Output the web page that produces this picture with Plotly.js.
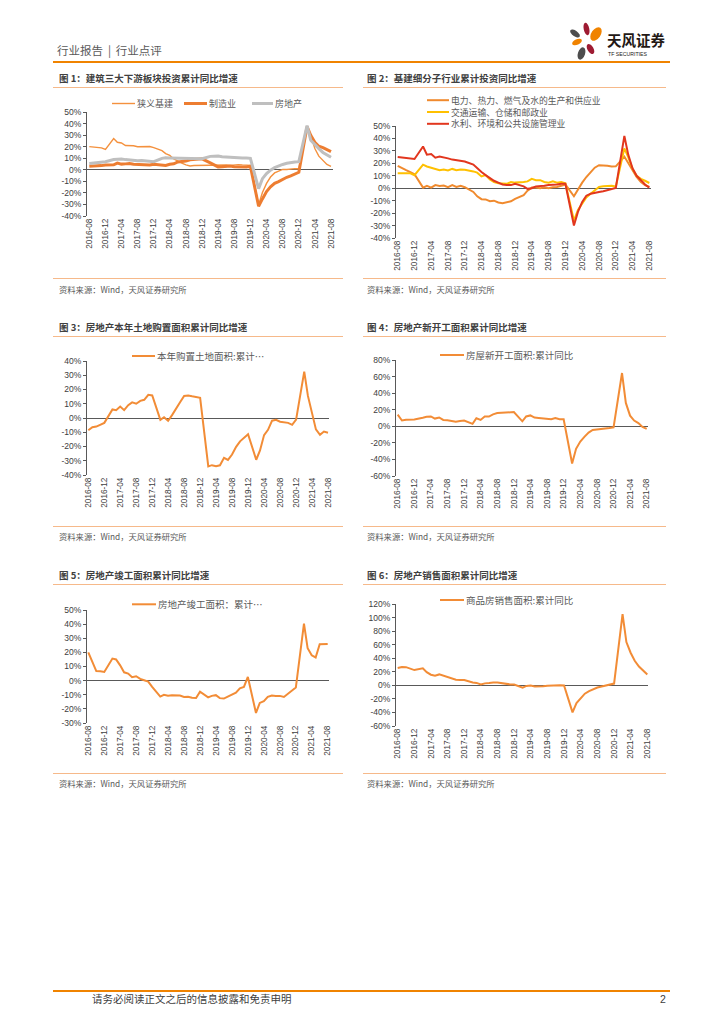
<!DOCTYPE html>
<html><head><meta charset="utf-8">
<script src="https://cdn.plot.ly/plotly-3.0.1.min.js"></script>
<style>
body{margin:0;width:724px;height:1024px;position:relative;background:#fff;overflow:hidden;font-family:"Liberation Sans","Noto Sans CJK SC",sans-serif}
.abs{position:absolute;white-space:nowrap}
.ttl{font-family:"Noto Sans CJK SC";font-weight:bold;font-size:9.5px;line-height:10px;color:#404040}
.src{font-family:"Noto Sans CJK SC";font-size:8.3px;line-height:9px;color:#595959}
.ln{position:absolute;height:1.5px;background:#F6B98A}
.chart{position:absolute}
</style></head><body>

<div class="abs" style="left:57px;top:44px;font-family:'Noto Sans CJK SC';font-size:11.5px;line-height:12px;color:#595959">行业报告 &#8201;|&#8201; 行业点评</div>
<div class="ln" style="left:53px;top:61px;width:617px;height:1.6px;background:#F08300"></div>
<svg class="abs" style="left:566px;top:18px" width="40" height="44" viewBox="0 0 40 44">
  <ellipse cx="20.5" cy="11" rx="2.8" ry="6.3" transform="rotate(-12 20.5 11)" fill="#9E1B32"/>
  <ellipse cx="30" cy="16" rx="4.6" ry="7.5" transform="rotate(35 30 16)" fill="#F08300"/>
  <ellipse cx="9" cy="15.5" rx="2.8" ry="5.6" transform="rotate(-55 9 15.5)" fill="#4D4D4D"/>
  <ellipse cx="11" cy="24" rx="2.8" ry="5.2" transform="rotate(65 11 24)" fill="#F08300"/>
  <ellipse cx="24.5" cy="31" rx="3" ry="5.6" transform="rotate(-30 24.5 31)" fill="#9E1B32"/>
  <ellipse cx="15.5" cy="35.5" rx="3.6" ry="6.4" transform="rotate(18 15.5 35.5)" fill="#4D4D4D"/>
</svg>
<div class="abs" style="left:607px;top:32px;font-family:'Noto Sans CJK SC';font-weight:bold;font-size:14.5px;line-height:16px;color:#231815">天风证券</div>
<div class="abs" style="left:608px;top:50.5px;font-family:'Liberation Sans';font-size:5.2px;line-height:6px;color:#231815">TF SECURITIES</div>

<div class="abs ttl" style="left:59px;top:73px">图 1：建筑三大下游板块投资累计同比增速</div>
<div class="abs ttl" style="left:367px;top:73px">图 2：基建细分子行业累计投资同比增速</div>
<div class="ln" style="left:53px;top:86.5px;width:290px"></div>
<div class="ln" style="left:363px;top:86.5px;width:303px"></div>
<div class="ln" style="left:53px;top:277.5px;width:290px"></div>
<div class="ln" style="left:363px;top:277.5px;width:303px"></div>
<div class="abs src" style="left:59px;top:284.5px">资料来源：Wind，天风证券研究所</div>
<div class="abs src" style="left:367px;top:284.5px">资料来源：Wind，天风证券研究所</div>

<div class="abs ttl" style="left:59px;top:321.5px">图 3：房地产本年土地购置面积累计同比增速</div>
<div class="abs ttl" style="left:367px;top:321.5px">图 4：房地产新开工面积累计同比增速</div>
<div class="ln" style="left:53px;top:335.5px;width:290px"></div>
<div class="ln" style="left:363px;top:335.5px;width:303px"></div>
<div class="ln" style="left:53px;top:525.5px;width:290px"></div>
<div class="ln" style="left:363px;top:525.5px;width:303px"></div>
<div class="abs src" style="left:59px;top:531.5px">资料来源：Wind，天风证券研究所</div>
<div class="abs src" style="left:367px;top:531.5px">资料来源：Wind，天风证券研究所</div>

<div class="abs ttl" style="left:59px;top:570px">图 5：房地产竣工面积累计同比增速</div>
<div class="abs ttl" style="left:367px;top:570px">图 6：房地产销售面积累计同比增速</div>
<div class="ln" style="left:53px;top:583.5px;width:290px"></div>
<div class="ln" style="left:363px;top:583.5px;width:303px"></div>
<div class="ln" style="left:53px;top:772.5px;width:290px"></div>
<div class="ln" style="left:363px;top:772.5px;width:303px"></div>
<div class="abs src" style="left:59px;top:778.5px">资料来源：Wind，天风证券研究所</div>
<div class="abs src" style="left:367px;top:778.5px">资料来源：Wind，天风证券研究所</div>

<div class="ln" style="left:53px;top:990px;width:617px;height:1.6px;background:#F08300"></div>
<div class="abs" style="left:92px;top:993px;font-family:'Noto Sans CJK SC';font-size:10.5px;line-height:12px;color:#404040">请务必阅读正文之后的信息披露和免责申明</div>
<div class="abs" style="left:660px;top:993px;font-family:'Liberation Sans';font-size:10.5px;line-height:12px;color:#404040">2</div>

<div id="c1" class="chart"></div>
<div id="c2" class="chart"></div>
<div id="c3" class="chart"></div>
<div id="c4" class="chart"></div>
<div id="c5" class="chart"></div>
<div id="c6" class="chart"></div>

<script>
// Monthly cumulative data (Jan merged into Feb), 2016-08 .. 2021-08
const months = [
 "2016-08","2016-09","2016-10","2016-11","2016-12",
 "2017-02","2017-03","2017-04","2017-05","2017-06","2017-07","2017-08","2017-09","2017-10","2017-11","2017-12",
 "2018-02","2018-03","2018-04","2018-05","2018-06","2018-07","2018-08","2018-09","2018-10","2018-11","2018-12",
 "2019-02","2019-03","2019-04","2019-05","2019-06","2019-07","2019-08","2019-09","2019-10","2019-11","2019-12",
 "2020-02","2020-03","2020-04","2020-05","2020-06","2020-07","2020-08","2020-09","2020-10","2020-11","2020-12",
 "2021-02","2021-03","2021-04","2021-05","2021-06","2021-07","2021-08"];

// Chart 1
const names1 = ["狭义基建","制造业","房地产"];
const infra = [20.0,19.6,19.4,19.0,17.6, 27.0,23.8,23.2,21.0,20.9,20.8,19.9,19.8,19.6,20.1,19.2,
 16.6,14.0,12.4,9.4,7.3,5.7,4.2,3.3,3.7,3.8,3.8, 4.3,4.4,4.4,4.0,4.1,3.8,4.2,4.5,4.2,4.0,3.8,
 -30.3,-19.7,-11.8,-6.3,-2.7,-1.0,0.3,0.2,0.7,1.0,0.9, 36.6,29.7,18.4,11.8,7.8,4.6,2.9];
const manu = [3.0,3.1,3.1,3.6,4.2, 4.3,5.8,4.9,5.1,5.5,4.8,4.5,4.2,4.1,4.1,4.8,
 4.3,3.8,4.8,5.2,6.8,7.3,7.5,8.7,9.1,9.5,9.5, 5.9,4.6,2.5,2.7,3.0,3.3,2.6,2.5,2.6,2.5,3.1,
 -31.5,-25.2,-18.8,-14.8,-11.7,-10.2,-8.1,-6.5,-5.3,-3.5,-2.2, 37.3,29.8,23.8,20.4,19.2,17.3,15.7];
const realty = [5.4,5.8,6.6,6.5,6.9, 8.9,9.1,9.3,8.8,8.5,7.9,7.9,8.1,7.8,7.5,7.0,
 9.9,10.4,10.3,10.2,9.7,10.2,10.1,9.9,9.7,9.7,9.5, 11.6,11.8,11.9,11.2,10.9,10.6,10.5,10.5,10.3,10.2,9.9,
 -16.3,-7.7,-3.3,-0.3,1.9,3.4,4.6,5.6,6.3,6.8,7.0, 38.3,25.6,21.6,18.3,15.0,12.7,10.9];
const yTicks1 = [-40,-30,-20,-10,0,10,20,30,40,50];

// Chart 2
const names2 = ["电力、热力、燃气及水的生产和供应业","交通运输、仓储和邮政业","水利、环境和公共设施管理业"];
const power = [18.0,16.0,14.5,13.0,11.3, 0.5,2.0,0.5,2.5,1.8,2.2,0.8,2.5,1.0,2.0,0.8,
 -3.0,-6.5,-8.8,-9.0,-10.5,-10.0,-11.5,-12.0,-11.5,-10.5,-8.6, -5.6,-2.0,0.5,0.5,0.0,0.5,0.0,0.8,1.0,2.0,3.0,
 -6.5,-1.0,4.5,9.0,13.0,16.5,18.5,18.5,18.0,17.5,17.6, 25.4,20.0,15.0,9.0,5.0,2.5,1.0];
const transport = [12.0,12.0,12.3,12.0,10.5, 18.9,17.5,16.5,15.5,14.5,15.0,14.2,15.5,14.5,15.0,14.8,
 13.5,12.5,9.5,10.5,7.0,5.0,4.0,4.0,3.5,5.0,4.5, 5.0,5.5,7.5,6.5,6.5,5.0,4.5,5.5,4.5,5.0,4.0,
 -26.0,-17.5,-12.6,-7.5,-4.5,-2.0,1.0,1.5,2.0,2.0,1.4, 32.0,25.0,15.5,10.0,7.5,6.0,4.2];
const water = [25.0,24.5,24.0,24.0,23.5, 33.5,27.0,27.5,24.5,25.5,25.0,24.0,23.0,22.5,22.5,21.5,
 19.0,16.0,13.0,10.5,8.0,6.0,4.5,3.0,2.5,2.5,3.5, 1.5,-0.5,0.0,1.5,1.5,2.0,2.5,2.5,3.0,3.5,3.5,
 -30.0,-19.0,-11.0,-6.0,-4.5,-3.5,-3.0,-2.5,-1.5,-1.0,0.2, 42.0,27.0,16.0,10.0,6.5,3.0,0.5];
const yTicks2 = [-40,-30,-20,-10,0,10,20,30,40,50];

// Chart 3
const names3 = ["本年购置土地面积:累计⋯"];
const land = [-8.6,-6.5,-6.0,-4.5,-3.4, 6.0,5.5,8.0,5.5,9.0,11.0,10.0,12.0,12.8,16.3,15.8,
 -1.3,0.5,-2.0,2.0,7.0,11.0,15.5,15.8,15.2,14.5,14.2, -34.0,-33.1,-33.8,-33.2,-27.9,-29.4,-25.6,-20.2,-16.4,-14.1,-11.4,
 -29.3,-22.8,-12.0,-8.3,-1.9,-1.3,-2.6,-3.2,-3.4,-4.8,-1.1, 32.5,15.5,3.6,-8.0,-11.8,-9.5,-10.4];
const yTicks3 = [-40,-30,-20,-10,0,10,20,30,40];

// Chart 4
const names4 = ["房屋新开工面积:累计同比"];
const newStart = [14.0,7.0,8.0,8.0,8.1, 10.4,11.6,11.9,9.3,10.6,7.7,7.4,6.9,5.6,6.5,7.0,
 2.9,9.7,7.7,11.8,11.8,14.4,15.9,16.4,16.3,16.8,17.2, 6.0,11.9,13.1,10.5,10.1,9.5,8.9,8.6,10.0,8.6,8.5,
 -44.9,-27.2,-18.4,-12.8,-7.6,-4.5,-3.6,-3.4,-2.7,-2.0,-1.2, 64.3,28.2,12.8,6.9,3.8,-0.9,-3.2];
const yTicks4 = [-60,-40,-20,0,20,40,60,80];

// Chart 5
const names5 = ["房地产竣工面积：累计⋯"];
const completion = [20.0,13.4,6.8,6.6,6.1, 15.6,15.0,10.8,5.9,5.0,2.4,3.1,1.2,0.3,-0.7,-4.4,
 -11.3,-10.1,-10.7,-10.3,-10.6,-10.6,-11.6,-11.4,-12.1,-12.3,-7.8, -11.9,-10.8,-10.3,-12.4,-12.7,-11.3,-10.0,-8.6,-5.5,-4.5,2.6,
 -22.9,-15.8,-14.5,-11.5,-10.5,-10.8,-10.8,-11.6,-9.2,-7.3,-4.9, 40.4,22.9,17.9,16.4,25.7,25.7,26.0];
const yTicks5 = [-30,-20,-10,0,10,20,30,40,50];

// Chart 6
const names6 = ["商品房销售面积:累计同比"];
const sales = [25.5,26.9,26.8,24.3,22.5, 25.1,19.5,15.7,14.3,16.1,14.0,12.7,10.3,8.2,7.9,7.7,
 4.1,3.6,1.3,2.9,3.3,4.2,4.0,2.9,2.2,1.4,1.3, -3.6,-0.9,-0.3,-1.6,-1.8,-1.3,-0.6,-0.1,0.1,0.2,-0.1,
 -39.9,-26.3,-19.3,-12.3,-8.4,-5.8,-3.3,-1.8,0.0,1.3,2.6, 104.9,63.8,48.1,36.3,27.7,21.5,15.9];
const yTicks6 = [-60,-40,-20,0,20,40,60,80,100,120];

const NUM_FONT = "Liberation Sans, Noto Sans CJK SC, sans-serif";
const CJK_FONT = "Noto Sans CJK SC, sans-serif";
const AX = "#595959";

function line(name, y, color, width){
  return {x: months, y: y, name: name, type: "scatter", mode: "lines",
          line: {color: color, width: width}, showlegend: false, hoverinfo: "skip"};
}

// box: plot rectangle in page px; p0/p1: page x of 2016-08 and 2021-08 ticks
// leg: list of legend entries {x, y, len} in page px
function draw(id, box, traces, yTicks, leg){
  const W = box.R - box.L, H = box.B - box.T;
  const ML = 50, MR = 10, MT = 45, MB = 50;
  const div = document.getElementById(id);
  div.style.left = (box.L - ML) + "px";
  div.style.top = (box.T - MT) + "px";
  const t0 = Date.UTC(2016, 7, 1), t1 = Date.UTC(2021, 7, 1);
  const mpp = (t1 - t0) / (box.p1 - box.p0);
  const iso = ms => new Date(ms).toISOString().slice(0, 19).replace("T", " ");
  const r0 = t0 - (box.p0 - box.L) * mpp, r1 = t1 + (box.R - box.p1) * mpp;
  const px = x => (x - box.L) / W, py = y => (box.B - y) / H;
  const shapes = [], annotations = [];
  leg.forEach((e, i) => {
    const tr = traces[i];
    shapes.push({type: "line", xref: "paper", yref: "paper",
      x0: px(e.x), x1: px(e.x + e.len), y0: py(e.y), y1: py(e.y),
      line: {color: tr.line.color, width: tr.line.width}});
    annotations.push({xref: "paper", yref: "paper", x: px(e.x + e.len + 2), y: py(e.y),
      xanchor: "left", yanchor: "middle", showarrow: false, text: tr.name, borderpad: 0, borderwidth: 0,
      font: {family: CJK_FONT, size: e.fs || 9.5, color: "#595959"}});
  });
  const layout = {
    width: W + ML + MR, height: H + MT + MB,
    margin: {l: ML, r: MR, t: MT, b: MB, pad: 0},
    paper_bgcolor: "rgba(0,0,0,0)", plot_bgcolor: "rgba(0,0,0,0)",
    font: {family: NUM_FONT, size: 8, color: "#404040"},
    showlegend: false,
    shapes: shapes, annotations: annotations,
    xaxis: {type: "date", range: [iso(r0), iso(r1)], tickmode: "linear",
      tick0: "2016-08-01", dtick: "M4", tickformat: "%Y-%m", tickangle: -90,
      tickfont: {family: NUM_FONT, size: 8.2, color: "#404040"},
      showgrid: false, zeroline: false, showline: false, ticks: "", fixedrange: true},
    yaxis: {range: [yTicks[0], yTicks[yTicks.length - 1]], tickmode: "array",
      tickvals: yTicks, ticktext: yTicks.map(v => v + "%"),
      showgrid: false, zeroline: true, zerolinecolor: AX, zerolinewidth: 1,
      showline: true, linecolor: AX, linewidth: 1, ticks: "outside", ticklen: 3,
      tickcolor: AX, tickfont: {family: NUM_FONT, size: 8.5, color: "#404040"}, fixedrange: true}
  };
  Plotly.newPlot(div, traces, layout, {staticPlot: true, displayModeBar: false});
}

const ORANGE = "#F28C36";

draw("c1", {L: 87, R: 333, T: 112, B: 216, p0: 89.3, p1: 331},
  [line(names1[0], infra, "#F4913E", 1.4), line(names1[1], manu, "#ED7D31", 3), line(names1[2], realty, "#BFBFBF", 3)],
  yTicks1,
  [{x: 112, y: 103.5, len: 23, fs: 9}, {x: 184, y: 103.5, len: 23, fs: 9}, {x: 252, y: 103.5, len: 21, fs: 9}]);

draw("c2", {L: 396, R: 651, T: 126, B: 238, p0: 397.7, p1: 649.3},
  [line(names2[0], power, "#F08A2E", 2), line(names2[1], transport, "#FFC000", 2), line(names2[2], water, "#E2361E", 2)],
  yTicks2,
  [{x: 427, y: 100.2, len: 22, fs: 8.8}, {x: 427, y: 112, len: 22, fs: 8.8}, {x: 427, y: 123.8, len: 22, fs: 8.8}]);

draw("c3", {L: 87, R: 329, T: 361, B: 475, p0: 88.3, p1: 328},
  [line(names3[0], land, ORANGE, 2)], yTicks3,
  [{x: 132, y: 356, len: 23}]);

draw("c4", {L: 396, R: 648, T: 360, B: 476, p0: 397.7, p1: 646.7},
  [line(names4[0], newStart, ORANGE, 2)], yTicks4,
  [{x: 440, y: 355, len: 24}]);

draw("c5", {L: 87, R: 329, T: 610, B: 723, p0: 88.3, p1: 327.7},
  [line(names5[0], completion, ORANGE, 2)], yTicks5,
  [{x: 132, y: 604.3, len: 24}]);

draw("c6", {L: 396, R: 648, T: 604, B: 726, p0: 397.7, p1: 647.3},
  [line(names6[0], sales, ORANGE, 2)], yTicks6,
  [{x: 440, y: 600, len: 24}]);
</script>
</body></html>
